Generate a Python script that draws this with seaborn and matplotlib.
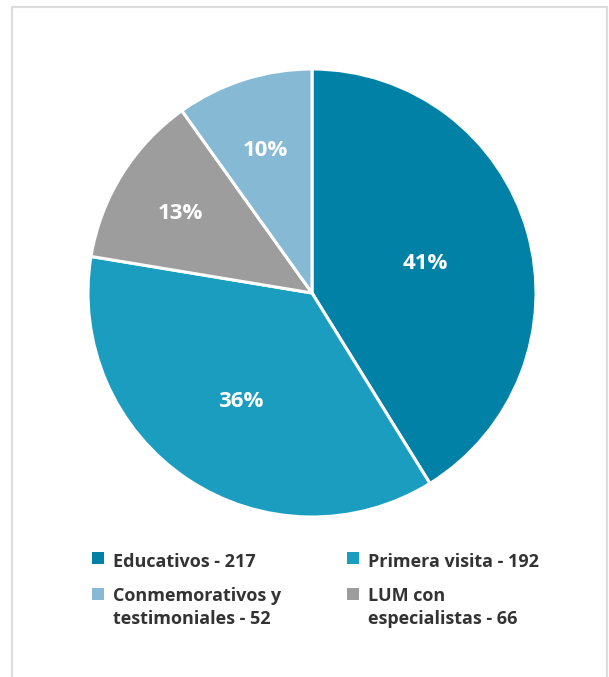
import matplotlib
matplotlib.use("Agg")
import matplotlib.pyplot as plt
import seaborn as sns
import numpy as np
from matplotlib.patches import Rectangle
from matplotlib.lines import Line2D

categories = ["Educativos", "Primera visita", "LUM con\nespecialistas", "Conmemorativos y\ntestimoniales"]
values = [217, 192, 66, 52]
colors = ["#0181a6", "#1b9dbf", "#9d9d9d", "#86bad4"]

sns.set_theme(style="white")
plt.rcParams["font.family"] = ["Open Sans", "DejaVu Sans"]

W, H = 609, 677
fig = plt.figure(figsize=(W / 100, H / 100), dpi=100)
fig.patch.set_facecolor("white")

cx, cy, R = 312, 293, 224
ax = fig.add_axes([(cx - R) / W, (H - cy - R) / H, 2 * R / W, 2 * R / H])
wedges, texts, autotexts = ax.pie(
    values, colors=colors, startangle=90, counterclock=False, radius=1,
    autopct=lambda p: f"{p:.0f}%", pctdistance=0.6,
    wedgeprops=dict(edgecolor="white", linewidth=2.2),
    textprops=dict(color="white", fontsize=16, fontweight="bold"),
)
ax.set_xlim(-1, 1)
ax.set_ylim(-1, 1)
ax.set_aspect("equal")
ax.axis("off")

dist = [0.525, 0.57, 0.69, 0.68]
for w, t, d in zip(wedges, autotexts, dist):
    ang = np.deg2rad((w.theta1 + w.theta2) / 2)
    t.set_position((d * np.cos(ang), d * np.sin(ang)))
    t.set_va("center_baseline")

# frame
lc = "#dcdcdc"
fig.add_artist(Line2D([12 / W, 12 / W], [0, 1 - 7 / H], color=lc, lw=1.6, transform=fig.transFigure))
fig.add_artist(Line2D([12 / W, 607 / W], [1 - 7 / H, 1 - 7 / H], color=lc, lw=1.6, transform=fig.transFigure))
fig.add_artist(Line2D([607 / W, 607 / W], [0, 1 - 7 / H], color=lc, lw=1.6, transform=fig.transFigure))

# legend
legend_order = [0, 1, 3, 2]
slots = [(92, 552, 567), (347, 552, 567), (92, 588, 601), (347, 588, 601)]
for idx, (lx, sq_top, base) in zip(legend_order, slots):
    fig.add_artist(Rectangle((lx / W, 1 - (sq_top + 11.5) / H), 11.5 / W, 11.5 / H,
                             facecolor=colors[idx], edgecolor="none", transform=fig.transFigure))
    lines = f"{categories[idx]} - {values[idx]}".split("\n")
    for k, line in enumerate(lines):
        fig.text((lx + 21) / W, 1 - (base + 23 * k) / H, line,
                 ha="left", va="baseline", fontsize=13, fontweight="bold",
                 color="#333333")

fig.savefig("out.png", dpi=100, facecolor="white")
